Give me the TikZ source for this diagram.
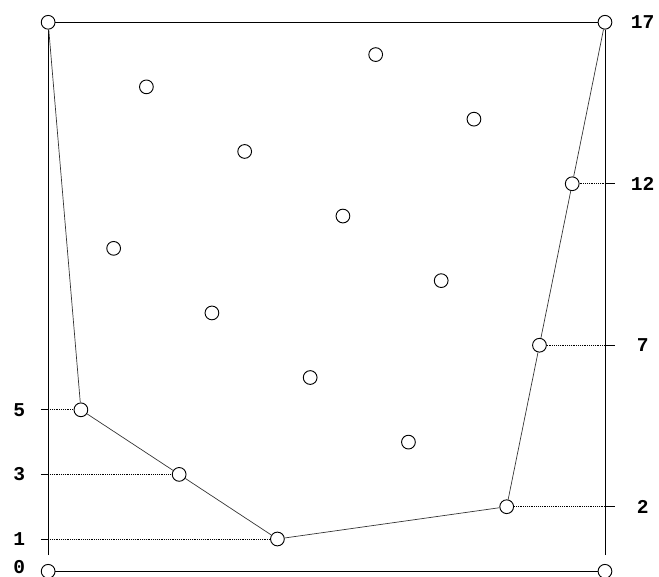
\documentclass[tikz,border=0pt]{standalone}
\usepackage{fontspec}
\setmonofont{Liberation Mono}
\usepackage{tikz}

\begin{document}
\begin{tikzpicture}[x=1cm,y=0.986cm,
  pt/.style={circle,draw,thick,inner sep=0pt,minimum size=0.42cm,fill=white},
  lab/.style={font=\ttfamily\bfseries\fontsize{17}{19}\selectfont},
  hull/.style={black!80,semithick},
  guide/.style={densely dotted,semithick}]
\useasboundingbox (-1.47,-0.155) rectangle (18.65,17.69);
% points (i, 5i mod 17)
\foreach \i in {1,...,16}{
  \pgfmathtruncatemacro\j{mod(5*\i,17)}
  \node[pt] (p\i) at (\i,\j) {};
}
\node[pt] (tl) at (0,17) {};
\node[pt] (tr) at (17,17) {};
\node[pt] (bl) at (0,0) {};
\node[pt] (br) at (17,0) {};
% frame
\coordinate (la) at (0,0.5);
\coordinate (ra) at (17,0.5);
\draw[thick] (la) -- (tl);
\draw[thick] (ra) -- (tr);
\draw[thick] (tl) -- (tr);
\draw[thick] (bl) -- (br);
% lower hull
\draw[hull] (tl) -- (p1) -- (p4) -- (p7) -- (p14) -- (p15) -- (p16) -- (tr);
% left ticks
\foreach \i/\j in {1/5,4/3,7/1}{
  \coordinate (lt\j) at (-0.22,\j);
  \coordinate (la\j) at (0,\j);
  \draw[thick] (lt\j) -- (la\j);
  \draw[guide] (la\j) -- (p\i);
  \node[lab] (ll\j) at (-0.88,\j) {\j};
}
\node[lab] (ll0) at (-0.88,0.12) {0};
% right ticks
\foreach \i/\j in {14/2,15/7,16/12}{
  \coordinate (rt\j) at (17.32,\j);
  \coordinate (ra\j) at (17,\j);
  \draw[thick] (ra\j) -- (rt\j);
  \draw[guide] (p\i) -- (ra\j);
  \node[lab] (rl\j) at (18.15,\j) {\j};
}
\node[lab] (rl17) at (18.15,17) {17};
\end{tikzpicture}
\end{document}
